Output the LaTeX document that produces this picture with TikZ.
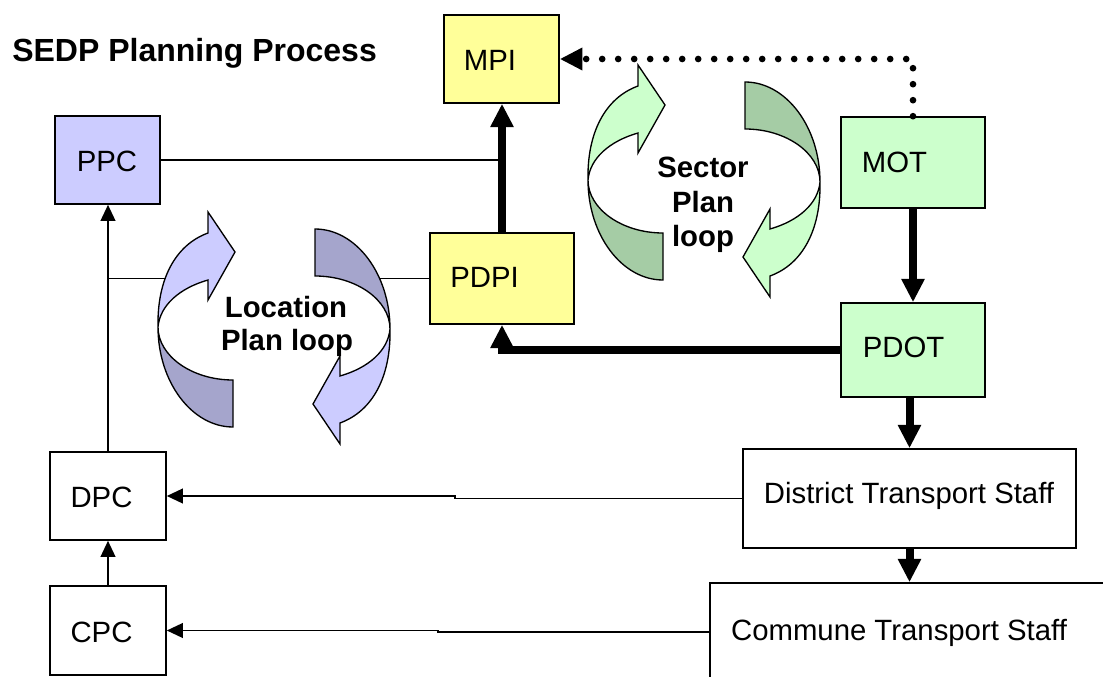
\documentclass[tikz,border=0pt]{standalone}
\usepackage{fontspec}
\setmainfont{Liberation Sans}
\usetikzlibrary{arrows.meta,calc}
\definecolor{ylw}{HTML}{FFFF99}
\definecolor{ppcblue}{HTML}{CCCCFF}
\definecolor{lgreen}{HTML}{CCFFCC}
\definecolor{dblue}{HTML}{A5A5CC}
\definecolor{dgreen}{HTML}{A5CCA5}
\newcommand{\looppair}[2]{%
  \foreach \ang in {0,180}{%
    \begin{scope}[rotate=\ang]
      \filldraw[fill=#1, draw=black, line width=1pt, line join=miter]
        (-66,-95) -- (-66,-116) -- (-39,-76) -- (-66,-28) -- (-66,-48)
        .. controls (-94,-40) and (-114,-23) .. (-116,-1)
        .. controls (-117,-48) and (-99,-83) .. (-66,-95) -- cycle;
      \filldraw[fill=#2, draw=black, line width=1pt, line join=miter]
        (-116,-1) .. controls (-116,54) and (-82,99) .. (-41,99)
        -- (-41,52) .. controls (-82,52) and (-116,28) .. (-116,-1) -- cycle;
    \end{scope}}%
}
\tikzset{
  box/.style={draw=black, line width=1.2pt, inner sep=0pt},
  lbl/.style={font=\fontsize{22}{26}\selectfont, inner sep=0pt, anchor=base},
  looplbl/.style={font=\fontsize{22}{26}\selectfont\bfseries, inner sep=0pt, anchor=base},
  titlelbl/.style={font=\fontsize{24}{28}\selectfont\bfseries, inner sep=0pt, anchor=base west},
  thinline/.style={line width=1.3pt},
  thinarrow/.style={thinline, -{Triangle[width=11pt,length=12pt]}},
  heavyarrow/.style={line width=6pt, -{Triangle[width=16.5pt,length=17.5pt]}},
  dotarrow/.style={line width=5pt, line cap=round, dash pattern=on 0pt off 12pt, -{Triangle[width=16pt,length=17pt]}},
}
\begin{document}
\begin{tikzpicture}[x=0.75pt,y=-0.75pt]
\clip (0,0) rectangle (1103,677);
\useasboundingbox (0,0) rectangle (1103,677);
% boxes
\node[box, fill=ylw, minimum width=86.25pt, minimum height=66pt] (MPI) at (501.5,59) {};
\node[box, fill=ppcblue, minimum width=78.75pt, minimum height=66pt] (PPC) at (107.5,160) {};
\node[box, fill=lgreen, minimum width=108pt, minimum height=68.25pt] (MOT) at (913,162.5) {};
\node[box, fill=ylw, minimum width=108pt, minimum height=68.25pt] (PDPI) at (502,278.5) {};
\node[box, fill=lgreen, minimum width=108pt, minimum height=70.5pt] (PDOT) at (913,350) {};
\node[box, fill=white, minimum width=87pt, minimum height=66pt] (DPC) at (108,496) {};
\node[box, fill=white, minimum width=87pt, minimum height=66.75pt] (CPC) at (108,630.5) {};
\node[box, fill=white, minimum width=249.75pt, minimum height=74.25pt] (DTS) at (909.5,498.5) {};
\node[box, fill=white, minimum width=315pt, minimum height=73.5pt] (CTS) at (920,632) {};
% connectors
\draw[dotarrow] (MOT.north) |- (MPI.east);
\draw[thinline] (PPC.east) -- (PPC.east -| PDPI.north);
\draw[heavyarrow] (PDPI.north) -- (PDPI.north |- MPI.south);
\draw[heavyarrow] (MOT.south) -- (PDOT.north);
\draw[heavyarrow] (PDOT.west) -| (PDPI.south);
\draw[heavyarrow] (DTS.north |- PDOT.south) -- (DTS.north);
\draw[heavyarrow] (DTS.south) -- (DTS.south |- CTS.north);
\coordinate (jogD) at (455,0);
\coordinate (jogC) at (438,0);
\draw[thinarrow] (DTS.west) -| (jogD |- DPC.east) -- (DPC.east);
\draw[thinarrow] (CTS.west) -| (jogC |- CPC.east) -- (CPC.east);
\draw[thinarrow] (CPC.north) -- (DPC.south);
\draw[thinarrow] (DPC.north) -- (DPC.north |- PPC.south);
\coordinate (locL) at (165,0);
\coordinate (locR) at (375,0);
\draw[thinline] (DPC.north |- PDPI.west) -- (locL |- PDPI.west);
\draw[thinline] (locR |- PDPI.west) -- (PDPI.west);
% loops
\begin{scope}[shift={(274,328)}]
  \looppair{ppcblue}{dblue}
\end{scope}
\begin{scope}[shift={(704,181)}]
  \looppair{lgreen}{dgreen}
\end{scope}
% texts
\node[titlelbl] (title) at (12,62) {SEDP Planning Process};
\node[lbl] (tMPI) at (490,71) {MPI};
\node[lbl] (tPPC) at (107,172) {PPC};
\node[lbl] (tMOT) at (894.5,173) {MOT};
\node[lbl] (tPDPI) at (484.5,288) {PDPI};
\node[lbl] (tPDOT) at (903.5,358) {PDOT};
\node[lbl] (tDPC) at (101.5,507) {DPC};
\node[lbl] (tCPC) at (101.5,642) {CPC};
\node[lbl] (tDTS) at (909,503) {District Transport Staff};
\node[lbl] (tCTS) at (899,640) {Commune Transport Staff};
\node[looplbl] (loc1) at (286,317) {Location};
\node[looplbl] (loc2) at (287,350) {Plan loop};
\node[looplbl] (sec1) at (703,178) {Sector};
\node[looplbl] (sec2) at (703,213) {Plan};
\node[looplbl] (sec3) at (703,247) {loop};
\end{tikzpicture}
\end{document}
